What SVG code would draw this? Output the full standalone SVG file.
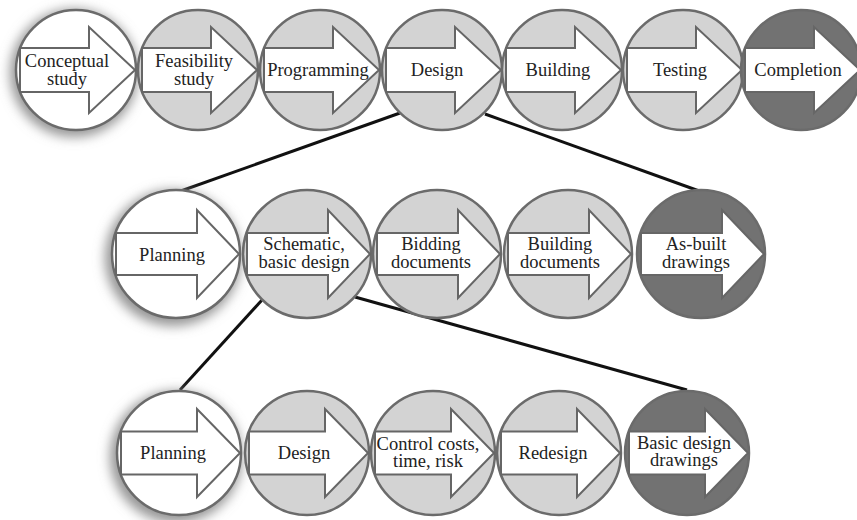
<svg xmlns="http://www.w3.org/2000/svg" width="857" height="520" viewBox="0 0 857 520">
<defs>
<filter id="glow" x="-50%" y="-50%" width="200%" height="200%"><feGaussianBlur stdDeviation="6"/></filter>
<path id="arTop" d="M-56,-22 H13 V-43 L59,0 L13,43 V22 H-56 Z"/>
<path id="arMid" d="M-60,-21 H21 V-44 L63,0 L21,44 V21 H-60 Z"/>
<path id="arBot" d="M-58,-21.5 H18 V-44 L61,0 L18,44 V21.5 H-58 Z"/>
</defs>
<style>
.c{stroke:#6b6b6b;stroke-width:2.5}
.w{fill:#ffffff}
.l{fill:#d3d3d3}
.d{fill:#727272}
.a{fill:#ffffff;stroke:#666666;stroke-width:2;stroke-linejoin:miter}
.h{fill:#959595;filter:url(#glow)}
.t{font-size:18.5px;fill:#222222;text-anchor:middle}
.k{stroke:#111111;stroke-width:3;fill:none}
</style>
<rect width="857" height="520" fill="#ffffff"/>
<g id="connectors">
<line class="k" x1="400" y1="113" x2="178" y2="192"/>
<line class="k" x1="485" y1="114" x2="702" y2="192"/>
<line class="k" x1="262" y1="300" x2="180" y2="390"/>
<line class="k" x1="355" y1="297" x2="687" y2="390"/>
</g>
<g font-family="Liberation Serif, Times New Roman, DejaVu Serif, serif">
<g id="conceptual">
<circle class="h" cx="74" cy="73" r="64"/>
<circle class="c w" cx="76" cy="70" r="60"/>
<use href="#arTop" class="a" x="76" y="70"/>
<text class="t" x="67" y="67">Conceptual</text><text class="t" x="67" y="85">study</text>
</g>
<g id="feasibility">
<circle class="c l" cx="198" cy="70" r="60"/>
<use href="#arTop" class="a" x="198" y="70"/>
<text class="t" x="194" y="67">Feasibility</text><text class="t" x="194" y="85">study</text>
</g>
<g id="programming">
<circle class="c l" cx="320" cy="70" r="60"/>
<use href="#arTop" class="a" x="320" y="70"/>
<text class="t" x="318" y="76">Programming</text>
</g>
<g id="design">
<circle class="c l" cx="442" cy="70" r="60"/>
<use href="#arTop" class="a" x="442" y="70"/>
<text class="t" x="437" y="76">Design</text>
</g>
<g id="building">
<circle class="c l" cx="562" cy="70" r="60"/>
<use href="#arTop" class="a" x="562" y="70"/>
<text class="t" x="558" y="76">Building</text>
</g>
<g id="testing">
<circle class="c l" cx="683" cy="70" r="60"/>
<use href="#arTop" class="a" x="683" y="70"/>
<text class="t" x="680" y="76">Testing</text>
</g>
<g id="completion">
<circle class="c d" cx="801" cy="70" r="60"/>
<use href="#arTop" class="a" x="801" y="70"/>
<text class="t" x="798" y="76">Completion</text>
</g>
<g id="planning1">
<circle class="h" cx="173" cy="258" r="68"/>
<circle class="c w" cx="176" cy="254" r="64"/>
<use href="#arMid" class="a" x="176" y="254"/>
<text class="t" x="172" y="261">Planning</text>
</g>
<g id="schematic">
<circle class="c l" cx="307" cy="254" r="64"/>
<use href="#arMid" class="a" x="307" y="254"/>
<text class="t" x="304" y="250">Schematic,</text><text class="t" x="304" y="268">basic design</text>
</g>
<g id="bidding">
<circle class="c l" cx="437" cy="254" r="64"/>
<use href="#arMid" class="a" x="437" y="254"/>
<text class="t" x="431" y="250">Bidding</text><text class="t" x="431" y="268">documents</text>
</g>
<g id="buildingdocs">
<circle class="c l" cx="568" cy="254" r="64"/>
<use href="#arMid" class="a" x="568" y="254"/>
<text class="t" x="560" y="250">Building</text><text class="t" x="560" y="268">documents</text>
</g>
<g id="asbuilt">
<circle class="c d" cx="701" cy="254" r="64"/>
<use href="#arMid" class="a" x="701" y="254"/>
<text class="t" x="696" y="250">As-built</text><text class="t" x="696" y="268">drawings</text>
</g>
<g id="planning2">
<circle class="h" cx="176" cy="457" r="66"/>
<circle class="c w" cx="179" cy="453" r="62"/>
<use href="#arBot" class="a" x="179" y="453"/>
<text class="t" x="173" y="459">Planning</text>
</g>
<g id="design2">
<circle class="c l" cx="307" cy="453" r="62"/>
<use href="#arBot" class="a" x="307" y="453"/>
<text class="t" x="304" y="459">Design</text>
</g>
<g id="control">
<circle class="c l" cx="433" cy="453" r="62"/>
<use href="#arBot" class="a" x="433" y="453"/>
<text class="t" x="428" y="450">Control costs,</text><text class="t" x="428" y="467">time, risk</text>
</g>
<g id="redesign">
<circle class="c l" cx="559" cy="453" r="62"/>
<use href="#arBot" class="a" x="559" y="453"/>
<text class="t" x="553" y="459">Redesign</text>
</g>
<g id="basicdesign">
<circle class="c d" cx="687" cy="453" r="62"/>
<use href="#arBot" class="a" x="687" y="453"/>
<text class="t" x="684" y="449">Basic design</text><text class="t" x="684" y="466">drawings</text>
</g>
</g>
</svg>
